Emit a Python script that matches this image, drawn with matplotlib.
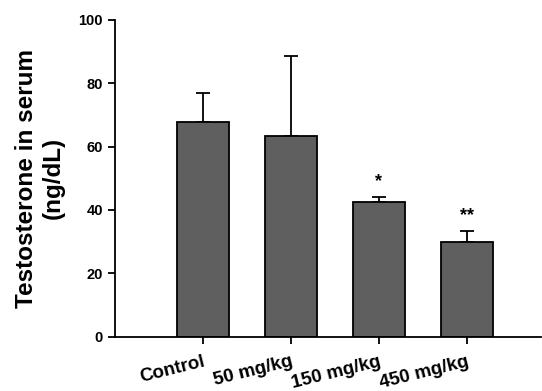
import matplotlib.pyplot as plt

groups = ["Control", "50 mg/kg", "150 mg/kg", "450 mg/kg"]
means = [67.9, 63.3, 42.4, 30.0]
sems = [9.1, 25.3, 1.8, 3.4]
marks = ["", "", "*", "**"]

plt.rcParams['font.family'] = ['Liberation Sans', 'DejaVu Sans']
plt.rcParams['font.weight'] = 'bold'

fig = plt.figure(figsize=(5.42, 3.91), dpi=100)
ax = fig.add_axes([0.212, 0.139, 0.786, 0.81])

x = range(len(groups))
ax.bar(x, means, width=0.6, color="#5f5f5f", edgecolor="black", linewidth=1.3, zorder=2)
ax.errorbar(x, means, yerr=[[0] * len(sems), sems], fmt="none", ecolor="black",
            elinewidth=1.3, capsize=5, capthick=1.3, zorder=1)

# significance stars above the error bars
for i, (m, s, t) in enumerate(zip(means, sems, marks)):
    if t:
        ax.text(i, m + s + 2.0, t, ha="center", va="bottom", fontsize=13)

ax.set_xlim(-1.0, 3.84)
ax.set_ylim(0, 100)
ax.set_yticks([0, 20, 40, 60, 80, 100])
ax.set_xticks(list(x))
ax.set_xticklabels(groups, rotation=14, ha="right", rotation_mode="anchor", fontsize=13.5)
for lab in ax.get_yticklabels():
    lab.set_fontsize(10.5)

ax.spines["top"].set_visible(False)
ax.spines["right"].set_visible(False)
ax.spines["left"].set_linewidth(1.3)
ax.spines["bottom"].set_linewidth(1.3)
ax.tick_params(direction="out", length=5, width=1.3)
ax.tick_params(axis="x", pad=7)

ax.set_ylabel("Testosterone in serum\n(ng/dL)", fontsize=17.5, fontweight="bold", labelpad=10)

fig.savefig("out.png", dpi=100)
